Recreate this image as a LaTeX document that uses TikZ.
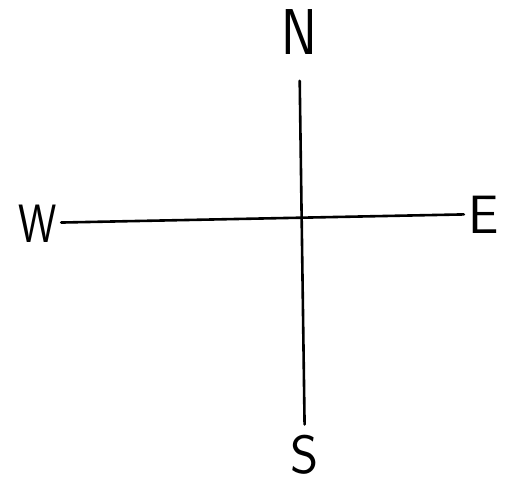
\documentclass[tikz,border=0pt]{standalone}
\usepackage{tikz}

\tikzset{
  compass/.style={font=\fontsize{54}{56}\selectfont\sffamily, inner sep=0pt,
                  text height=39pt, text depth=0pt},
  arm/.style={line width=2.6pt, line cap=round}
}

\begin{document}
\begin{tikzpicture}[x=1pt,y=-1pt]
  % Frame
  \useasboundingbox (0,0) rectangle (506,485);
  % Points of the compass
  \node[compass, outer sep=22pt, yscale=1.2] (N) at (299,31) {N};
  \node[compass, outer sep=10pt] (S) at (305,454) {S};
  \node[compass, outer sep=5pt, xscale=0.8] (W) at (38,223) {W};
  \node[compass, outer sep=5pt] (E) at (484,214) {E};
  % Arms
  \draw[arm] (N) -- (S);
  \draw[arm] (W) -- (E);
\end{tikzpicture}
\end{document}
